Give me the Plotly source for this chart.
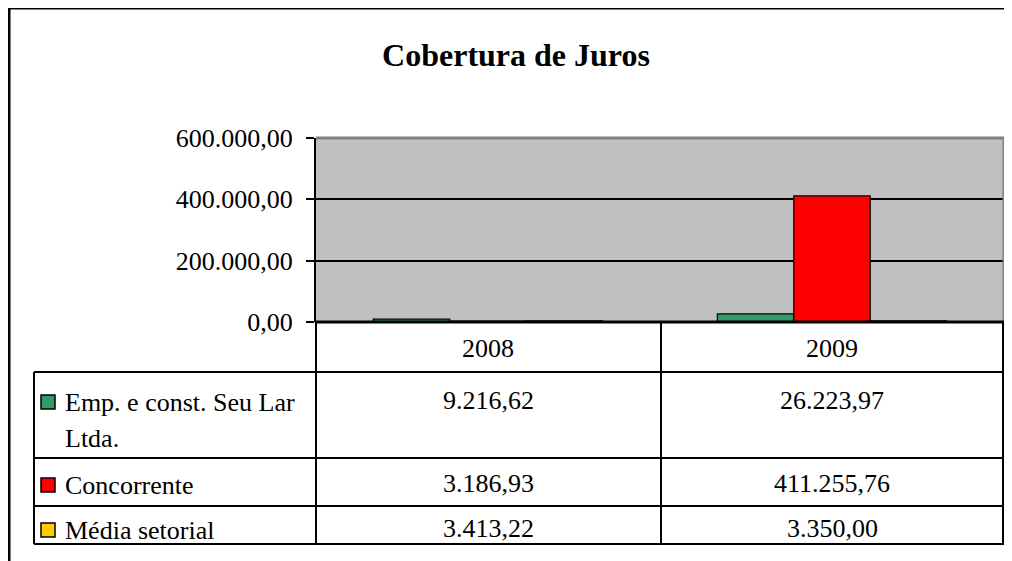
import plotly.graph_objects as go

# ---- data ----
categories = ["2008", "2009"]
series_names = ["Emp. e const. Seu Lar<br>Ltda.", "Concorrente", "Média setorial"]
series_colors = ["#339966", "#FF0000", "#FFCC00"]
emp_values = [9216.62, 26223.97]
concorrente_values = [3186.93, 411255.76]
media_values = [3413.22, 3350.00]
y_ticks = [0, 200000, 400000, 600000]
title_text = "Cobertura de Juros"

all_values = [emp_values, concorrente_values, media_values]

# ---- layout geometry (pixels, in page coordinates; page body has 8px margin) ----
OX, OY = 8, 8
W, H = 1012, 561
L, R, T, B = 316 - OX, 1004 - OX, 138 - OY, 322 - OY
FONT = "Liberation Serif, Times New Roman, serif"
FS = 26


def xp(px):
    return (px - OX - L) / (R - L)


def yp(py):
    return (B - (py - OY)) / (B - T)


def fmt(v):
    s = f"{v:,.2f}"
    return s.replace(",", "X").replace(".", ",").replace("X", ".")


fig = go.Figure()
for name, color, vals in zip(series_names, series_colors, all_values):
    fig.add_trace(go.Bar(
        x=categories, y=vals, name=name.replace("<br>", " "),
        marker=dict(color=color, line=dict(color="black", width=1.2)),
        showlegend=False,
    ))

shapes = []
annotations = []

# outer chart frame
shapes.append(dict(type="rect", xref="paper", yref="paper",
                   x0=xp(9), x1=xp(1100), y0=yp(700), y1=yp(8),
                   line=dict(color="black", width=3), layer="above"))

# plot-area gray border (top, right)
shapes.append(dict(type="line", xref="paper", yref="paper", x0=0, x1=1, y0=1, y1=1,
                   line=dict(color="#808080", width=3), layer="above"))
shapes.append(dict(type="line", xref="paper", yref="paper", x0=1, x1=1, y0=0, y1=1,
                   line=dict(color="#808080", width=3), layer="above"))

# data table lines
row_lines = [372, 458, 506, 544]
shapes.append(dict(type="line", xref="paper", yref="paper", x0=0, x1=1, y0=0, y1=0,
                   line=dict(color="black", width=3), layer="above"))
for py in row_lines:
    shapes.append(dict(type="line", xref="paper", yref="paper", x0=xp(34), x1=1,
                       y0=yp(py), y1=yp(py), line=dict(color="black", width=2), layer="above"))
for px, ytop in [(34, 372), (316, 322), (661, 322), (1003, 322)]:
    shapes.append(dict(type="line", xref="paper", yref="paper", x0=xp(px), x1=xp(px),
                       y0=yp(ytop), y1=yp(544), line=dict(color="black", width=2), layer="above"))

# header labels (category index positions on the x axis)
for ci, c in enumerate(categories):
    annotations.append(dict(x=ci, xref="x", y=yp(348), yref="paper", text=c,
                            showarrow=False, xanchor="center", yanchor="middle",
                            font=dict(family=FONT, size=FS, color="black")))

# row labels, legend keys and values
row_text_y = [402, 485, 530]
for i, (name, color, vals) in enumerate(zip(series_names, series_colors, all_values)):
    ty = row_text_y[i]
    shapes.append(dict(type="rect", xref="paper", yref="paper",
                       x0=xp(41), x1=xp(55), y0=yp(ty + 7), y1=yp(ty - 7),
                       fillcolor=color, line=dict(color="black", width=1.5), layer="above"))
    for j, line in enumerate(name.split("<br>")):
        annotations.append(dict(x=xp(63), xref="paper", y=yp(ty + 36 * j), yref="paper",
                                text=line, showarrow=False, xanchor="left", yanchor="middle",
                                font=dict(family=FONT, size=FS, color="black")))
    for ci, v in enumerate(vals):
        annotations.append(dict(x=ci, xref="x", y=yp(ty - 2), yref="paper", text=fmt(v),
                                showarrow=False, xanchor="center", yanchor="middle",
                                font=dict(family=FONT, size=FS, color="black")))

fig.update_layout(
    width=W, height=H,
    margin=dict(l=L, r=W - R, t=T, b=H - B, pad=0),
    paper_bgcolor="white",
    plot_bgcolor="#C0C0C0",
    separators=",.",
    barmode="group",
    bargap=1.5 / 4.5,
    bargroupgap=0,
    title=dict(text="<b>" + title_text + "</b>", x=(516 - OX) / W, xanchor="center",
               y=1 - (55 - OY) / H, yanchor="middle", yref="container",
               font=dict(family=FONT, size=32, color="black")),
    xaxis=dict(range=[-0.5, 1.5], showticklabels=False, ticks="", showgrid=False,
               showline=False, zeroline=False, fixedrange=True),
    yaxis=dict(range=[0, 600000], tickvals=y_ticks, tickformat=",.2f",
               showgrid=True, gridcolor="black", gridwidth=1.5,
               showline=True, linecolor="black", linewidth=2, zeroline=False,
               ticks="outside", ticklen=8, tickwidth=2, tickcolor="black",
               ticklabelstandoff=8,
               tickfont=dict(family=FONT, size=FS, color="black")),
    shapes=shapes,
    annotations=annotations,
)

fig.write_html("out.html")
